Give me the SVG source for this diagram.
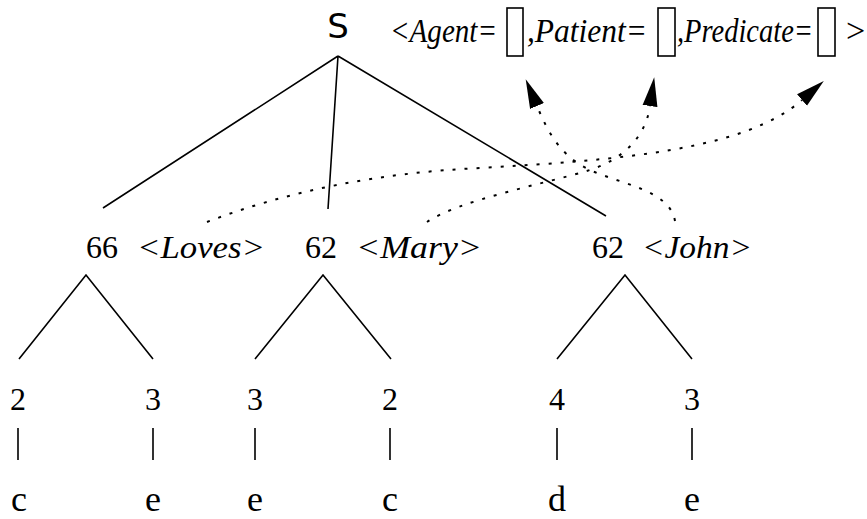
<svg xmlns="http://www.w3.org/2000/svg" width="867" height="519" viewBox="0 0 867 519">
<style>
.t{font-family:"Liberation Serif","DejaVu Serif",serif;font-size:32px;fill:#000}
.i{font-style:italic}
.m{text-anchor:middle}
.l{font-size:36px}
.h{font-size:34px}
.e{stroke:#000;stroke-width:1.6;fill:none}
.d{stroke:#000;stroke-width:2;fill:none;stroke-dasharray:3 9}
.b{fill:#fff;stroke:#000;stroke-width:1.6}
</style>
<defs>
<marker id="ah" markerUnits="userSpaceOnUse" markerWidth="32" markerHeight="18" refX="0" refY="8" orient="auto" viewBox="0 0 32 16">
<path d="M0,0.5 L29,8 L0,15.5 z" fill="#000"/>
</marker>
</defs>
<g id="root">
<text x="338" y="38" style="font-family:'DejaVu Sans',sans-serif;font-size:34px;text-anchor:middle">S</text>
<text class="t i h" x="390" y="42" textLength="107" lengthAdjust="spacingAndGlyphs">&lt;Agent=</text>
<rect class="b" x="507" y="8" width="16" height="48"/>
<text class="t i h" x="527" y="42" textLength="120" lengthAdjust="spacingAndGlyphs">,Patient=</text>
<rect class="b" x="658" y="8" width="17" height="48"/>
<text class="t i h" x="677" y="42" textLength="136" lengthAdjust="spacingAndGlyphs">,Predicate=</text>
<rect class="b" x="818" y="8" width="17" height="48"/>
<text class="t h" x="846" y="42">&gt;</text>
</g>
<g id="n-loves">
<text class="t" x="86" y="258">66</text>
<text class="t i" x="137" y="258" textLength="128" lengthAdjust="spacingAndGlyphs">&lt;Loves&gt;</text>
</g>
<g id="n-mary">
<text class="t" x="305" y="258">62</text>
<text class="t i" x="356" y="258" textLength="126" lengthAdjust="spacingAndGlyphs">&lt;Mary&gt;</text>
</g>
<g id="n-john">
<text class="t" x="592" y="258">62</text>
<text class="t i" x="642" y="258" textLength="110" lengthAdjust="spacingAndGlyphs">&lt;John&gt;</text>
</g>
<g id="leaves">
<text class="t m" x="18" y="410">2</text>
<text class="t m" x="153" y="410">3</text>
<text class="t m" x="255" y="410">3</text>
<text class="t m" x="390" y="410">2</text>
<text class="t m" x="557" y="410">4</text>
<text class="t m" x="692" y="410">3</text>
<text class="t m l" x="19" y="511">c</text>
<text class="t m l" x="153" y="511">e</text>
<text class="t m l" x="255" y="511">e</text>
<text class="t m l" x="390" y="511">c</text>
<text class="t m l" x="557" y="511">d</text>
<text class="t m l" x="692" y="511">e</text>
</g>
<g id="connectors">
<path class="e" d="M338,56 L103,208 M338,56 L328,209 M338,56 L606,216"/>
<path class="e" d="M19,359 L86,275 L153,359 M255,359 L323,275 L391,359 M557,359 L625,275 L692,359"/>
<path class="e" d="M18,428 V460 M153,428 V460 M255,428 V460 M390,428 V460 M557,428 V460 M692,428 V460"/>
<path class="d" marker-end="url(#ah)" d="M207,222 Q330,175 480,168 C620,160 745,150 802,100"/>
<path class="d" marker-end="url(#ah)" d="M427,222 C460,200 540,185 590,170 C620,160 645,140 650,106"/>
<path class="d" marker-end="url(#ah)" d="M675,221 C670,190 620,184 590,170 C560,156 548,132 537,106"/>
</g>
</svg>
